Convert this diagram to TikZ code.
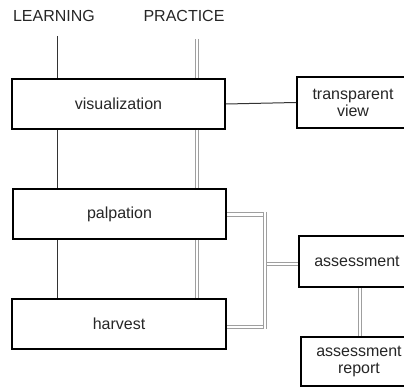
\documentclass[tikz,border=0pt]{standalone}
\usepackage{fontspec}
\setmainfont{Liberation Sans}
\begin{document}
\begin{tikzpicture}[x=1pt,y=-1pt,
  lbl/.style={font=\fontsize{16}{19}\selectfont, text=black!85, inner sep=0pt},
  box/.style={draw=black, line width=2pt, fill=white, lbl, align=center, minimum height=50pt},
  thin/.style={draw=black!80, line width=1pt},
  dbl/.style={draw=gray!75, line width=1pt, double=white, double distance=2.3pt}]
\useasboundingbox (0,0) rectangle (404,387);
\clip (0,0) rectangle (404,387);
% header labels
\node[lbl] (learn) at (54,16) {LEARNING};
\node[lbl] (pract) at (184,16) {PRACTICE};
\coordinate (L0) at (57,36);
\coordinate (P0) at (197,39);
% boxes
\node[box, minimum width=213pt] (vis) at (118.5,104) {visualization};
\node[box, minimum width=213pt] (palp) at (119.5,214) {palpation};
\node[box, minimum width=214pt] (harv) at (119,324) {harvest};
\node[box, minimum width=112pt, minimum height=51pt] (tv) at (353,102.5) {transparent\\[-2pt]view};
\node[box, minimum width=110pt, minimum height=51pt] (ass) at (354,261.5) {\hspace*{6pt}assessment};
\node[box, minimum width=108pt, minimum height=49pt] (rep) at (355,361.5) {\hspace*{8pt}assessment\\[-2pt]\hspace*{8pt}report};
% learning line
\draw[thin] (L0) -- (vis.north -| L0);
\draw[thin] (vis.south -| L0) -- (palp.north -| L0);
\draw[thin] (palp.south -| L0) -- (harv.north -| L0);
% practice line
\draw[dbl] (P0) -- (vis.north -| P0);
\draw[dbl] (vis.south -| P0) -- (palp.north -| P0);
\draw[dbl] (palp.south -| P0) -- (harv.north -| P0);
% visualization to transparent view
\draw[thin] (vis.east) -- (tv.west);
% junction bar
\coordinate (B1) at (265,212);
\coordinate (B2) at (265,329);
\coordinate (Bp) at (263,214.5);
\coordinate (Bh) at (263,327);
\coordinate (Ba) at (266,264);
\draw[dbl] (palp.east |- Bp) -- (Bp);
\draw[dbl] (harv.east |- Bh) -- (Bh);
\draw[dbl] (Ba) -- (ass.west |- Ba);
\draw[dbl] (B1) -- (B2);
% assessment to report
\draw[dbl] (ass.south -| 360,0) -- (rep.north -| 360,0);
\end{tikzpicture}
\end{document}
